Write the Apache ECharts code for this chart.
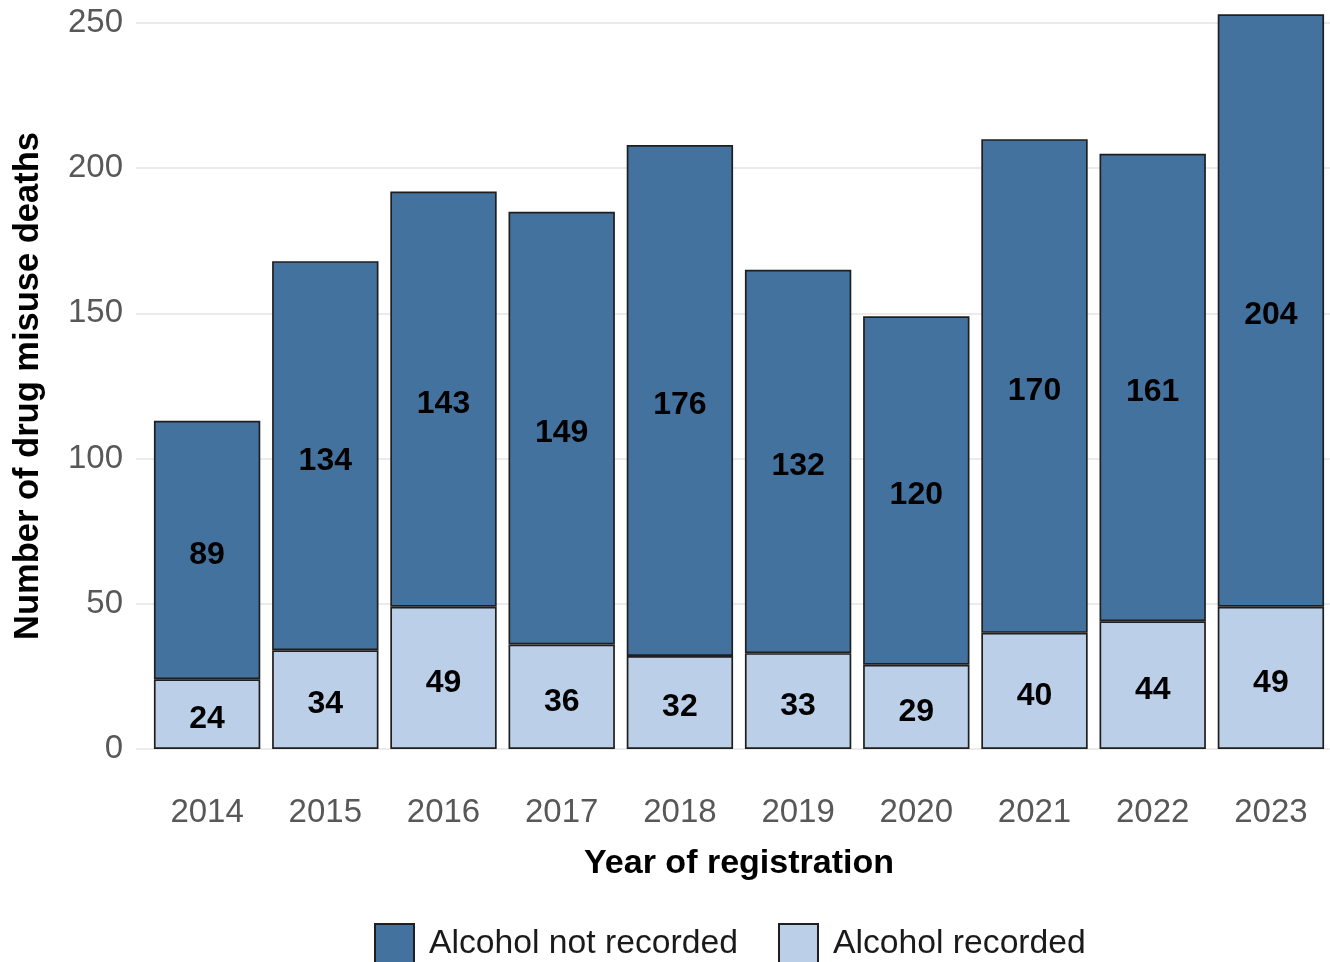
<!DOCTYPE html>
<html>
<head>
<meta charset="utf-8">
<script src="https://cdn.jsdelivr.net/npm/echarts@6/dist/echarts.min.js"></script>
<style>html,body{margin:0;padding:0;background:#fff;}#c{width:1330px;height:962px;}</style>
</head>
<body>
<div id="c"></div>
<script>
const years = ['2014','2015','2016','2017','2018','2019','2020','2021','2022','2023'];
const alcoholRecorded = [24, 34, 49, 36, 32, 33, 29, 40, 44, 49];
const alcoholNotRecorded = [89, 134, 143, 149, 176, 132, 120, 170, 161, 204];
const yTickStep = 50;
const yMax = 250;

const chart = echarts.init(document.getElementById('c'), null, {renderer: 'canvas'});
const font = 'Liberation Sans, Arial, sans-serif';
const labelStyle = {
  show: true, position: 'inside', color: '#000', fontWeight: 'bold',
  fontSize: 32, fontFamily: font, offset: [0, 5]
};
chart.setOption({
  animation: false,
  backgroundColor: '#fff',
  grid: [
    {left: 148, right: -5, top: 23, bottom: 213, containLabel: false},
    {left: 136, right: -17, top: 23, bottom: 213, containLabel: false}
  ],
  legend: {
    left: 374, top: 923, padding: 0, itemWidth: 39, itemHeight: 39, itemGap: 40,
    icon: 'rect',
    data: ['Alcohol not recorded', 'Alcohol recorded'],
    textStyle: {fontSize: 33.7, fontFamily: font, color: '#1a1a1a', padding: [3, 0, 0, 10]}
  },
  xAxis: [
    {
      type: 'category', gridIndex: 0, data: years,
      name: 'Year of registration', nameLocation: 'middle', nameGap: 98,
      nameTextStyle: {fontSize: 34, fontWeight: 'bold', fontFamily: font, color: '#000'},
      axisLine: {show: false}, axisTick: {show: false}, splitLine: {show: false},
      axisLabel: {fontSize: 33, fontFamily: font, color: '#585858', margin: 47}
    },
    {type: 'value', gridIndex: 1, min: 0, max: 1, show: false}
  ],
  yAxis: [
    {
      type: 'value', gridIndex: 0, min: 0, max: yMax, interval: yTickStep,
      axisLine: {show: false}, axisTick: {show: false}, axisLabel: {show: false},
      splitLine: {show: false}
    },
    {
      type: 'value', gridIndex: 1, min: 0, max: yMax, interval: yTickStep,
      name: 'Number of drug misuse deaths', nameLocation: 'middle', nameGap: 90,
      nameTextStyle: {fontSize: 34.5, fontWeight: 'bold', fontFamily: font, color: '#000'},
      axisLine: {show: false}, axisTick: {show: false},
      splitLine: {show: true, lineStyle: {color: '#EBEBEB', width: 2}},
      axisLabel: {fontSize: 33, fontFamily: font, color: '#585858', margin: 13}
    }
  ],
  series: [
    {
      name: 'Alcohol recorded', type: 'bar', stack: 'total', barWidth: '90%', clip: false,
      xAxisIndex: 0, yAxisIndex: 0,
      itemStyle: {color: '#BCCFE8', borderColor: '#1f1f1f', borderWidth: 1.7},
      label: labelStyle,
      data: alcoholRecorded
    },
    {
      name: 'Alcohol not recorded', type: 'bar', stack: 'total', barWidth: '90%', clip: false,
      xAxisIndex: 0, yAxisIndex: 0,
      itemStyle: {color: '#43729E', borderColor: '#1f1f1f', borderWidth: 1.7},
      label: labelStyle,
      data: alcoholNotRecorded
    }
  ]
});
</script>
</body>
</html>
